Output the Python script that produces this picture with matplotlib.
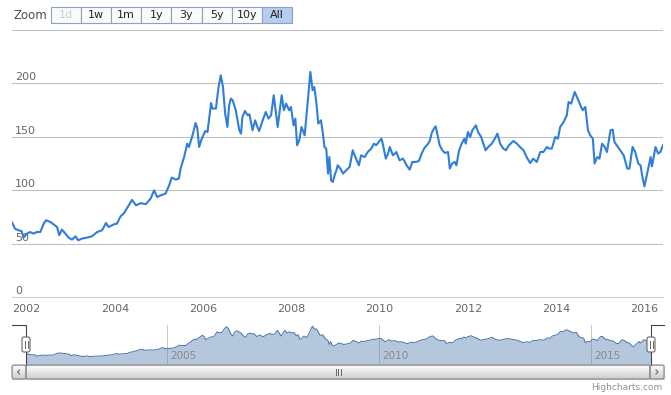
import matplotlib.pyplot as plt
import matplotlib.transforms as mtransforms
from matplotlib.colors import LinearSegmentedColormap
from matplotlib.patches import Rectangle, FancyBboxPatch
import numpy as np

W, H = 671, 395

# price series (decimal year, value)
dates = [
    2001.67, 2001.74, 2001.82, 2001.89, 2001.93, 2002.01, 2002.08, 2002.16, 2002.23, 2002.31,
    2002.39, 2002.44, 2002.54, 2002.61, 2002.69, 2002.74, 2002.80, 2002.88, 2002.95, 2003.03,
    2003.11, 2003.17, 2003.26, 2003.37, 2003.48, 2003.60, 2003.71, 2003.80, 2003.86, 2003.98,
    2004.05, 2004.13, 2004.20, 2004.30, 2004.39, 2004.48, 2004.59, 2004.70, 2004.81, 2004.89,
    2004.96, 2005.04, 2005.15, 2005.23, 2005.29, 2005.38, 2005.45, 2005.49, 2005.57, 2005.64,
    2005.68, 2005.76, 2005.83, 2005.87, 2005.91, 2005.97, 2006.05, 2006.10, 2006.18, 2006.21,
    2006.29, 2006.35, 2006.40, 2006.45, 2006.50, 2006.55, 2006.59, 2006.63, 2006.67, 2006.74,
    2006.82, 2006.86, 2006.89, 2006.95, 2007.01, 2007.05, 2007.12, 2007.18, 2007.23, 2007.27,
    2007.35, 2007.42, 2007.48, 2007.54, 2007.60, 2007.69, 2007.78, 2007.83, 2007.88, 2007.95,
    2007.99, 2008.05, 2008.09, 2008.13, 2008.18, 2008.23, 2008.30, 2008.36, 2008.43, 2008.48,
    2008.52, 2008.56, 2008.61, 2008.67, 2008.71, 2008.75, 2008.79, 2008.83, 2008.86, 2008.90,
    2008.94, 2008.98, 2009.02, 2009.05, 2009.11, 2009.17, 2009.24, 2009.32, 2009.39, 2009.45,
    2009.53, 2009.58, 2009.66, 2009.73, 2009.81, 2009.87, 2009.92, 2009.98, 2010.04, 2010.07,
    2010.14, 2010.19, 2010.23, 2010.30, 2010.38, 2010.45, 2010.53, 2010.61, 2010.68, 2010.74,
    2010.82, 2010.89, 2010.95, 2011.02, 2011.10, 2011.14, 2011.18, 2011.23, 2011.27, 2011.33,
    2011.36, 2011.42, 2011.48, 2011.55, 2011.59, 2011.64, 2011.70, 2011.74, 2011.80, 2011.86,
    2011.92, 2011.95, 2012.00, 2012.05, 2012.10, 2012.18, 2012.23, 2012.30, 2012.35, 2012.40,
    2012.46, 2012.54, 2012.61, 2012.67, 2012.73, 2012.80, 2012.86, 2012.93, 2013.03, 2013.11,
    2013.18, 2013.26, 2013.33, 2013.41, 2013.48, 2013.56, 2013.64, 2013.71, 2013.79, 2013.84,
    2013.90, 2013.98, 2014.04, 2014.09, 2014.17, 2014.24, 2014.28, 2014.34, 2014.42, 2014.47,
    2014.55, 2014.60, 2014.66, 2014.72, 2014.77, 2014.83, 2014.87, 2014.93, 2014.98, 2015.04,
    2015.10, 2015.15, 2015.23, 2015.28, 2015.32, 2015.40, 2015.45, 2015.53, 2015.61, 2015.66,
    2015.73, 2015.79, 2015.86, 2015.91, 2015.96, 2016.00, 2016.06, 2016.14, 2016.17, 2016.25,
    2016.31, 2016.36, 2016.42,
]
values = [
    70, 64, 62.6, 61.7, 55.8, 59.5, 61, 59.5, 61, 61,
    68.9, 72, 70.4, 68.2, 65.7, 58, 63.3, 59.5, 55.8, 53.9,
    57, 53.3, 54.9, 55.8, 57, 61, 62.6, 69.4, 65.7, 68.2,
    68.9, 75.7, 78.2, 85, 91, 86, 88, 87, 92.2, 100,
    93.7, 95.3, 96.9, 104.7, 111.9, 110, 111, 120.3, 131.1, 143.6,
    140.5, 151.4, 162.9, 157.7, 140.5, 148.3, 155.4, 154.5, 181.6, 176.4,
    176.4, 196.5, 207.5, 196.5, 171.7, 159.2, 179.4, 185.7, 184.1, 174.8,
    156.1, 153, 168.5, 174.1, 170.1, 171, 156.1, 165.4, 159.2, 155.4,
    165.4, 173.2, 167, 170.1, 188.8, 159.2, 188.8, 174.8, 181, 174.8,
    177.9, 160.7, 167, 142.1, 146.8, 159.2, 151.4, 177.9, 210.6, 193.5,
    196.5, 184.1, 162.3, 165.4, 154.5, 140.5, 139, 115.6, 131.1, 109.3,
    107.8, 114, 118.7, 123.4, 120.3, 115.6, 118.7, 121.8, 137.4, 131.1,
    123.4, 132.7, 131.1, 135.8, 139, 143.6, 142.1, 145.1, 148.3, 143.6,
    129.6, 134.3, 140.5, 132.7, 135.8, 128, 129.6, 123.4, 119.3, 126.5,
    126.5, 127.4, 134.3, 139.9, 143.6, 146.7, 153.6, 157.7, 159.8, 148.3,
    142.1, 137.4, 134.9, 135.8, 120.3, 125, 126.5, 123.4, 137.4, 143.6,
    148.3, 143.6, 154.5, 149.8, 156.1, 160.7, 154.5, 149.8, 143.6, 137.4,
    140.5, 143.6, 148.3, 153, 143.6, 139, 137.4, 142.1, 146.1, 143.6,
    140.5, 137.4, 131.1, 125.5, 129.6, 126.5, 135.8, 135.8, 140.5, 139,
    139, 149.8, 148.3, 159.2, 163.9, 170.1, 182.5, 181, 191.9, 187.2,
    179.4, 174.8, 177.9, 156.1, 151.4, 148.3, 125, 131.1, 129.6, 143.6,
    140.5, 135.8, 156.1, 156.7, 145.1, 140.5, 137.4, 132.7, 120.3, 120.3,
    140.5, 135.8, 125, 123.4, 110.9, 103.7, 115.6, 131.1, 122.4, 140.5,
    134.3, 135.8, 142.1,
]

y_ticks = [0, 50, 100, 150, 200, 250]
y_labels = ["0", "50", "100", "150", "200", ""]
x_ticks = [2002, 2004, 2006, 2008, 2010, 2012, 2014, 2016]
nav_ticks = [2005, 2010, 2015]
buttons = ["1d", "1w", "1m", "1y", "3y", "5y", "10y", "All"]

fig = plt.figure(figsize=(W / 100, H / 100), dpi=100)


def box(x0, y0, x1, y1):
    # pixel box (origin top-left) -> figure fraction rect
    return [x0 / W, 1 - y1 / H, (x1 - x0) / W, (y1 - y0) / H]


# main chart
ax = fig.add_axes(box(12, 29.8, 663, 297.3))
ax.plot(dates, values, color="#2f7ed8", lw=1.5, zorder=4, solid_joinstyle="round")
ax.set_xlim(dates[0], dates[-1])
ax.set_ylim(0, 250)
ax.set_yticks(y_ticks)
ax.grid(axis="y", color="#c0c0c0", lw=0.75)
ax.set_axisbelow(True)
ax.tick_params(axis="y", length=0, labelleft=False)
ax.set_xticks(x_ticks)
ax.set_xticklabels([str(t) for t in x_ticks])
ax.tick_params(axis="x", length=0, pad=5, labelsize=8, labelcolor="#666666")
for s in ["top", "right", "left"]:
    ax.spines[s].set_visible(False)
ax.spines["bottom"].set_color("#c0d0e0")
ax.spines["bottom"].set_linewidth(0.75)
lab_tr = mtransforms.offset_copy(ax.get_yaxis_transform(), fig=fig, x=3, y=3, units="dots")
for v, lab in zip(y_ticks, y_labels):
    ax.text(0, v, lab, transform=lab_tr, ha="left", va="baseline",
            fontsize=8, color="#666666", zorder=3)

# navigator
nav = fig.add_axes(box(26, 325, 651, 365))
nav.fill_between(dates, values, 0, color="#b5c7dc", lw=0, zorder=1)
nav.plot(dates, values, color="#4572a7", lw=0.7, zorder=2)
nav.set_xlim(dates[0], dates[-1])
nav.set_ylim(10, 216)
nav.set_xticks(nav_ticks)
nav.set_yticks([])
nav.grid(axis="x", color="#808080", lw=0.6, alpha=0.5, zorder=3)
nav.tick_params(length=0, labelbottom=False)
for s in nav.spines.values():
    s.set_visible(False)
nav_tr = mtransforms.offset_copy(nav.get_xaxis_transform(), fig=fig, x=3, y=6, units="dots")
for t in nav_ticks:
    nav.text(t, 0, str(t), transform=nav_tr, ha="left", va="baseline",
             fontsize=7.5, color="#888888", zorder=4)

# overlay for range selector, navigator handles, scrollbar, credits
ui = fig.add_axes([0, 0, 1, 1], zorder=10)
ui.axis("off")


def grad(x0, y0, x1, y1, c0, c1):
    cmap = LinearSegmentedColormap.from_list("g", [c0, c1])
    ui.imshow(np.linspace(0, 1, 32).reshape(-1, 1), extent=(x0, x1, y1, y0),
              cmap=cmap, aspect="auto", zorder=1)


ui.text(13, 15.5, "Zoom", fontsize=8.5, color="#4d4d4d", ha="left", va="center")
bw = 30.1
for i, b in enumerate(buttons):
    x0 = 51 + i * bw
    fc = "#b5cdee" if b == "All" else "#fafafa"
    ui.add_patch(Rectangle((x0, 7), bw, 16, fc=fc, ec="#8aa2c0", lw=0.8, zorder=2))
    col = "#cccccc" if b == "1d" else "#222222"
    ui.text(x0 + bw / 2, 15.5, b, fontsize=8, color=col, ha="center", va="center", zorder=3)

# navigator outline
ui.plot([12, 26, 26], [325, 325, 365], color="#444444", lw=0.8, zorder=3)
ui.plot([651, 651, 664], [365, 325, 325], color="#444444", lw=0.8, zorder=3)
for hx in [26, 651]:
    ui.add_patch(FancyBboxPatch((hx - 4, 337), 8, 15, boxstyle="round,pad=0,rounding_size=2",
                                fc="white", ec="#666666", lw=0.8, zorder=4))
    ui.plot([hx - 1.5, hx - 1.5], [341, 348], color="#666666", lw=0.7, zorder=5)
    ui.plot([hx + 1.5, hx + 1.5], [341, 348], color="#666666", lw=0.7, zorder=5)

# scrollbar
grad(12, 365, 664, 379, "#eeeeee", "#ffffff")
ui.add_patch(Rectangle((12, 365), 652, 14, fc="none", ec="#cccccc", lw=0.8, zorder=2))
for bx0 in [12, 650]:
    grad(bx0, 365, bx0 + 14, 379, "#ffffff", "#cccccc")
    ui.add_patch(FancyBboxPatch((bx0, 365), 14, 14, boxstyle="round,pad=0,rounding_size=2",
                                fc="none", ec="#888888", lw=0.8, zorder=3))
ui.plot([19.5, 17.5, 19.5], [370, 372, 374], color="#666666", lw=0.8, zorder=4)
ui.plot([656, 658, 656], [370, 372, 374], color="#666666", lw=0.8, zorder=4)
grad(26, 365, 650, 379, "#ffffff", "#cccccc")
ui.add_patch(FancyBboxPatch((26, 365), 624, 14, boxstyle="round,pad=0,rounding_size=2",
                            fc="none", ec="#888888", lw=0.8, zorder=3))
for rx in [335.5, 338, 340.5]:
    ui.plot([rx, rx], [369, 375], color="#666666", lw=0.7, zorder=4)

ui.text(662, 388, "Highcharts.com", fontsize=6.5, color="#909090", ha="right", va="center")

ui.set_xlim(0, W)
ui.set_ylim(H, 0)

fig.savefig("out.png", dpi=100)
